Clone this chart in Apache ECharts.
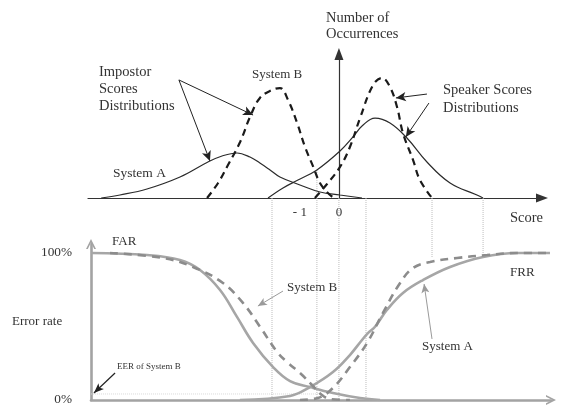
<!DOCTYPE html>
<html>
<head>
<meta charset="utf-8">
<script src="https://cdn.jsdelivr.net/npm/echarts@6/dist/echarts.min.js"></script>
<style>
html,body{margin:0;padding:0;background:#fff;}
#chart{width:561px;height:407px;}
</style>
</head>
<body>
<div id="chart"></div>
<script>
// ---- Top panel: score distributions [score, number of occurrences] ----
const impostorA = [[-10.8,0],[-9.95,2],[-8.72,6],[-7.22,14],[-5.95,24],[-5.31,28],[-4.63,30],[-4.04,27.3],[-3.59,23.3],[-3.13,18.7],[-2.68,14],[-1.77,8.7],[-0.86,4],[0.05,2],[1.05,0]];
const impostorB = [[-5.99,0],[-5.49,10],[-5.04,22],[-4.49,37.3],[-4.04,54],[-3.59,66.7],[-3.04,72],[-2.68,73.3],[-2.31,65.3],[-1.9,50],[-1.54,34],[-1.18,21.3],[-0.86,10],[-0.5,3.3],[-0.22,0]];
const speakerA = [[-3.22,0],[-2.54,6.7],[-1.86,12],[-1.0,18.7],[0.05,31.3],[0.64,40.7],[1.05,48],[1.64,53.3],[2.32,50],[3.09,40],[4.0,24],[5.05,10],[6.27,2],[6.55,0]];
const speakerB = [[-1.09,0],[-0.54,9.3],[0.05,20.7],[0.5,34],[0.96,53.3],[1.55,75.3],[1.96,80],[2.32,74],[2.64,60.7],[2.91,43.3],[3.37,25.3],[3.68,12],[4.23,0]];
const scoreTicks = [-1, 0];

// ---- Bottom panel: error rates [score, %] ----
const farA = [[-11.26,100],[-8.72,98.6],[-7.22,95.2],[-6.31,88.4],[-5.4,74.8],[-4.63,56.5],[-3.9,38.8],[-2.99,22.4],[-2.22,12.9],[-1.31,8.8],[-0.27,4.8],[0.96,1.4],[1.87,0]];
const farB = [[-10.4,100],[-7.99,96.6],[-6.63,90.5],[-5.27,79.6],[-4.36,66],[-3.58,49.7],[-2.81,32.7],[-2.36,25.9],[-1.77,18.4],[-1.22,10.2],[-0.77,3.4],[-0.4,0.7],[0.5,0]];
const frrA = [[-4.5,0],[-2.22,2.7],[-1.31,8.8],[-0.27,19],[0.5,30.6],[1.05,40.8],[1.32,45.5],[1.65,50],[2.18,61.2],[2.91,72.8],[3.82,81.6],[5.05,90.5],[6.55,97.3],[8.1,100],[9.59,100]];
const frrB = [[-1.77,0],[-0.95,1.4],[-0.27,8.2],[0.5,22.4],[1.28,38.8],[2.0,59.2],[2.78,79.6],[3.37,89.8],[4.14,93.9],[5.37,96.6],[6.73,98.6],[8.1,100],[9.59,100]];
const rateTicks = [0, 100];
const eerLevel = 4.1;

// ---- Guide lines (score, upper end in occurrences, lower end in %) ----
const guideX = [-3.04, -1.0, 0, 1.23, 4.23, 6.55];
const guideTopCount = [0, 18.7, 0, 0, 0, 0];
const guideEndRate = [0, 0, 0, 0, 96.6, 98.6];

// ---- Annotation arrows [from, to] in data coordinates ----
const topArrows = [[[-7.27,78.7],[-3.90,55.3]],[[-7.27,78.7],[-5.86,24.7]],[[4.0,69.3],[2.59,66.7]],[[4.09,63.3],[3.04,40.7]]];
const grayArrows = [[[-2.54,74.1],[-3.68,63.9]],[[4.23,41.5],[3.87,78.9]]];
const eerArrow = [[[-10.17,18.4],[-11.13,4.8]]];

const SERIF = '"Liberation Serif", "DejaVu Serif", serif';
const MID_MAX = 137.4;
const chevron = 'path://M0,10 L5,0 L10,10 L8.2,10 L5,3.6 L1.8,10 Z';

const chart = echarts.init(document.getElementById('chart'), null, {renderer:'canvas'});

function line(data, xi, opts) {
  return Object.assign({
    type:'line', data: data, xAxisIndex: xi, yAxisIndex: xi,
    showSymbol:false, symbol:'none', smooth:0.4, silent:true, z:3
  }, opts);
}

const series = [
  line(impostorA, 0, {lineStyle:{color:'#2b2b2b', width:1.2}}),
  line(speakerA, 0, {lineStyle:{color:'#2b2b2b', width:1.2},
    markLine:{silent:true, symbol:['none','arrow'], symbolSize:[7,10], label:{show:false},
      lineStyle:{color:'#222', width:1, type:'solid'},
      data: topArrows.map(a => [{coord:a[0]},{coord:a[1]}])}}),
  line(impostorB, 0, {lineStyle:{color:'#1a1a1a', width:2.2, type:[7,5]}}),
  line(speakerB, 0, {lineStyle:{color:'#1a1a1a', width:2.2, type:[7,5]}}),
  line(farA, 1, {lineStyle:{color:'#a6a6a6', width:2.6}}),
  line(frrA, 1, {lineStyle:{color:'#a6a6a6', width:2.6},
    markLine:{silent:true, symbol:['none','arrow'], symbolSize:[6,9], label:{show:false},
      lineStyle:{color:'#9a9a9a', width:1, type:'solid'},
      data: grayArrows.map(a => [{coord:a[0]},{coord:a[1]}])}}),
  line(farB, 1, {lineStyle:{color:'#8c8c8c', width:2.6, type:[8,6]}}),
  line(frrB, 1, {lineStyle:{color:'#8c8c8c', width:2.6, type:[8,6]},
    markLine:{silent:true, symbol:['none','arrow'], symbolSize:[6,10], label:{show:false},
      lineStyle:{color:'#222', width:1.2, type:'solid'},
      data: eerArrow.map(a => [{coord:a[0]},{coord:a[1]}])}}),
  line([[-11.26, eerLevel],[-0.8, eerLevel]], 1, {smooth:false, z:1, lineStyle:{color:'#d8d8d8', width:1, type:'dotted'}})
];
guideX.forEach((gx, i) => {
  series.push(line([[gx, MID_MAX],[gx, guideEndRate[i]]], 2, {smooth:false, z:1, lineStyle:{color:'#bdbdbd', width:1, type:'dotted'}}));
  if (guideTopCount[i] > 0) {
    series.push(line([[gx, guideTopCount[i]],[gx, 0]], 0, {smooth:false, z:1, lineStyle:{color:'#bdbdbd', width:1, type:'dotted'}}));
  }
});

const texts = [
  ['Number of', 326, 18, 14.5], ['Occurrences', 326, 34, 14.5],
  ['Impostor', 99, 72, 14.5], ['Scores', 99, 89, 14.5], ['Distributions', 99, 106, 14.5],
  ['System B', 252, 75, 13], ['System A', 113, 173, 13.5],
  ['Speaker Scores', 443, 90, 14.5], ['Distributions', 443, 108, 14.5],
  ['Score', 510, 218, 14.5],
  ['FAR', 112, 242, 13], ['Error rate', 12, 322, 13], ['EER of System B', 117, 367, 9],
  ['System B', 287, 288, 13], ['System A', 422, 347, 13], ['FRR', 510, 273, 13]
];

const option = {
  animation:false,
  backgroundColor:'#fff',
  grid:[
    {left:88, right:19, top:54, bottom:209},
    {left:91, right:10, top:244, bottom:7},
    {left:88, right:19, top:198, bottom:7}
  ],
  xAxis:[
    {type:'value', gridIndex:0, min:-11.4, max:9.227, splitLine:{show:false},
     axisLine:{onZero:true, lineStyle:{color:'#333', width:1.2}, symbol:['none','triangle'], symbolSize:[9,12]},
     axisTick:{show:false},
     axisLabel:{customValues:scoreTicks, margin:8, fontFamily:SERIF, fontSize:13, color:'#333',
       formatter: v => v === -1 ? '{a|- 1}' : String(v),
       rich:{a:{fontFamily:SERIF, fontSize:13, color:'#333', padding:[0,34,0,0]}}}},
    {type:'value', gridIndex:1, min:-11.263, max:9.636, splitLine:{show:false},
     axisLine:{onZero:false, lineStyle:{color:'#a3a3a3', width:2.6}, symbol:['none',chevron], symbolSize:[14,10]},
     axisTick:{show:false}, axisLabel:{show:false}},
    {type:'value', gridIndex:2, min:-11.4, max:9.227, show:false}
  ],
  yAxis:[
    {type:'value', gridIndex:0, min:0, max:96, splitLine:{show:false},
     axisLine:{show:true, onZero:true, lineStyle:{color:'#333', width:1.2}, symbol:['none','triangle'], symbolSize:[9,12]},
     axisTick:{show:false}, axisLabel:{show:false}},
    {type:'value', gridIndex:1, min:0, max:106.1, splitLine:{show:false},
     axisLine:{show:true, onZero:false, lineStyle:{color:'#a3a3a3', width:2.6}, symbol:['none',chevron], symbolSize:[14,10]},
     axisTick:{show:false},
     axisLabel:{customValues:rateTicks, margin:19, fontFamily:SERIF, fontSize:13.3, color:'#333', formatter: v => v + '%'}},
    {type:'value', gridIndex:2, min:0, max:MID_MAX, show:false}
  ],
  graphic: texts.map(t => ({type:'text', x:t[1], y:t[2], silent:true,
    style:{text:t[0], fontFamily:SERIF, fontSize:t[3], fill:'#333', verticalAlign:'middle', align:'left'}})),
  series: series
};
chart.setOption(option);
</script>
</body>
</html>
